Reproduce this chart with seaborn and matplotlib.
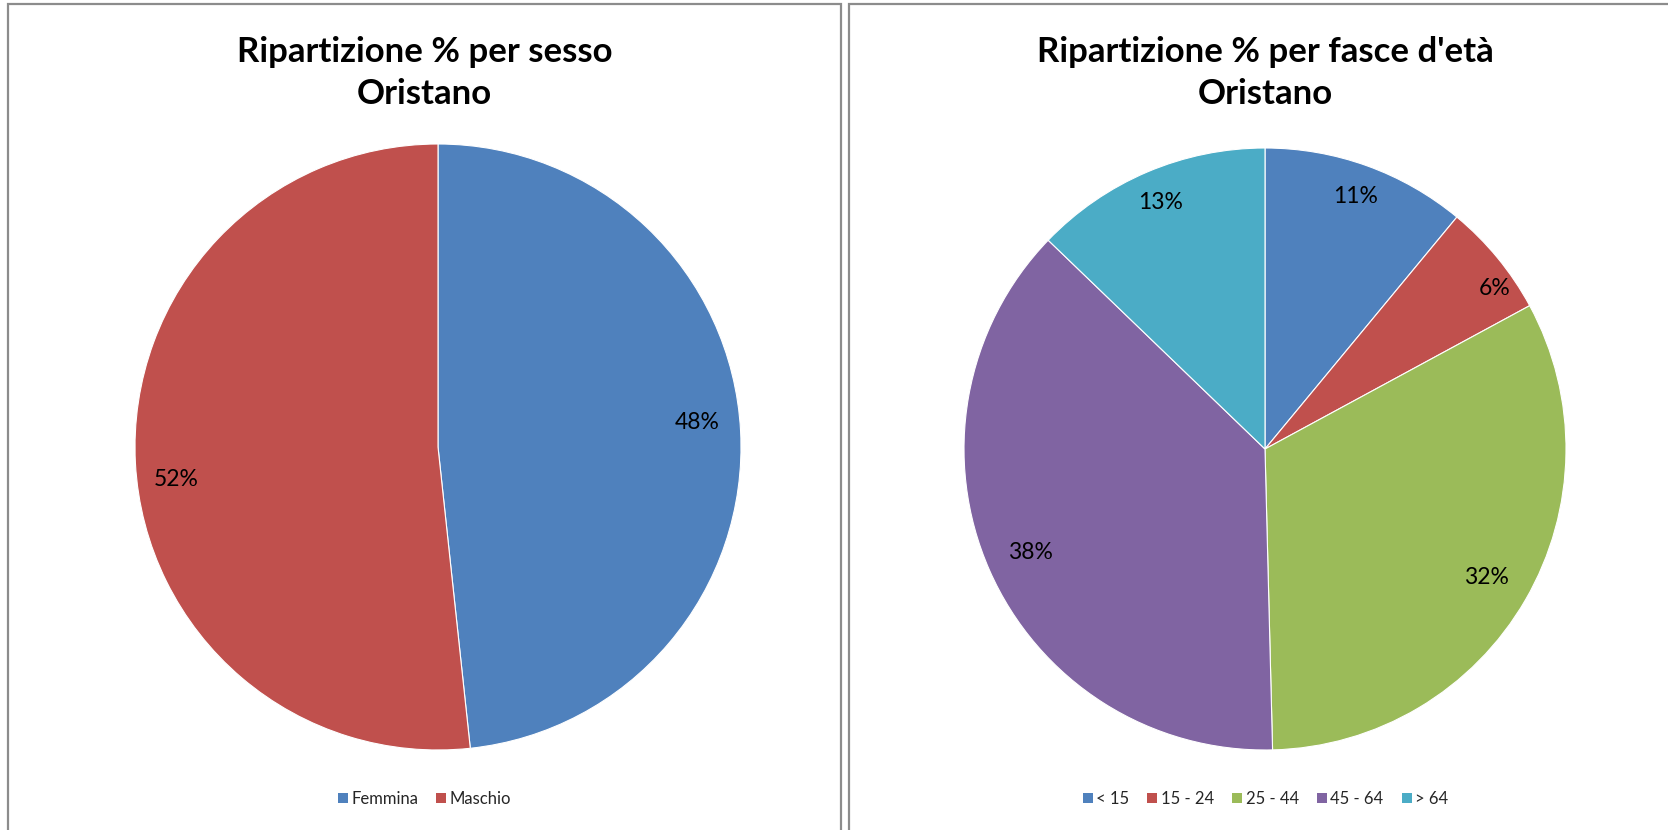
import matplotlib
matplotlib.use("Agg")
import matplotlib.pyplot as plt
from matplotlib.patches import Rectangle, Patch
import numpy as np
import seaborn as sns

sns.set_theme(style="white")
plt.rcParams["font.family"] = ["Lato", "DejaVu Sans"]

# data
sesso_labels = ["Femmina", "Maschio"]
sesso_values = [48.3, 51.7]

eta_labels = ["< 15", "15 - 24", "25 - 44", "45 - 64", "> 64"]
eta_values = [11.0, 6.1, 32.5, 37.6, 12.8]

palette = sns.color_palette(["#4F81BD", "#C0504D", "#9BBB59", "#8064A2", "#4BACC6"])

W, H = 1668, 830
fig = plt.figure(figsize=(W / 100, H / 100), dpi=100)
fig.patch.set_facecolor("white")


def px_axes(cx, cy, r):
    return fig.add_axes([(cx - r) / W, (H - cy - r) / H, 2 * r / W, 2 * r / H])


def draw_panel(x0, x1, title, cx, cy, r, labels, values, label_pos):
    # panel frame
    fig.add_artist(Rectangle((x0 / W, -0.1), (x1 - x0) / W, 1.1 - 4 / H,
                             transform=fig.transFigure, fill=False,
                             edgecolor="#8c8c8c", linewidth=1.6))
    fig.text((x0 + x1) / 2 / W, 1 - 73 / H, title, ha="center", va="center",
             fontsize=25, fontweight="bold", color="black", linespacing=1.4)

    ax = px_axes(cx, cy, r)
    colors = palette[:len(values)]
    wedges, _ = ax.pie(values, colors=colors, startangle=90, counterclock=False,
                       radius=1.0, wedgeprops=dict(edgecolor="white", linewidth=0.8))
    total = sum(values)
    # percentage labels: radial distance + small angular nudge (Excel "best fit")
    for w, v, (d, shift) in zip(wedges, values, label_pos):
        mid = np.deg2rad((w.theta1 + w.theta2) / 2 + shift)
        ax.text(d * np.cos(mid), d * np.sin(mid), f"{v / total * 100:.0f}%",
                ha="center", va="center", fontsize=16.5, color="black")
    ax.set_xlim(-1, 1)
    ax.set_ylim(-1, 1)
    ax.set_axis_off()

    handles = [Patch(facecolor=c, edgecolor="none") for c in colors]
    fig.legend(handles, labels, loc="center", ncol=len(labels),
               bbox_to_anchor=((x0 + x1) / 2 / W, 1 - 799 / H), frameon=False,
               fontsize=12, handlelength=0.6, handleheight=0.6,
               handletextpad=0.2, columnspacing=1.1)


draw_panel(8, 841, "Ripartizione % per sesso\nOristano", 438, 447, 303,
           sesso_labels, sesso_values, [(0.86, 2.3), (0.87, 4)])
draw_panel(849, 1682, "Ripartizione % per fasce d'età\nOristano", 1265, 449, 301,
           eta_labels, eta_values,
           [(0.89, 0), (0.93, -4.5), (0.85, 0), (0.85, 0), (0.89, 0)])

fig.savefig("out.png", dpi=100, facecolor="white")
